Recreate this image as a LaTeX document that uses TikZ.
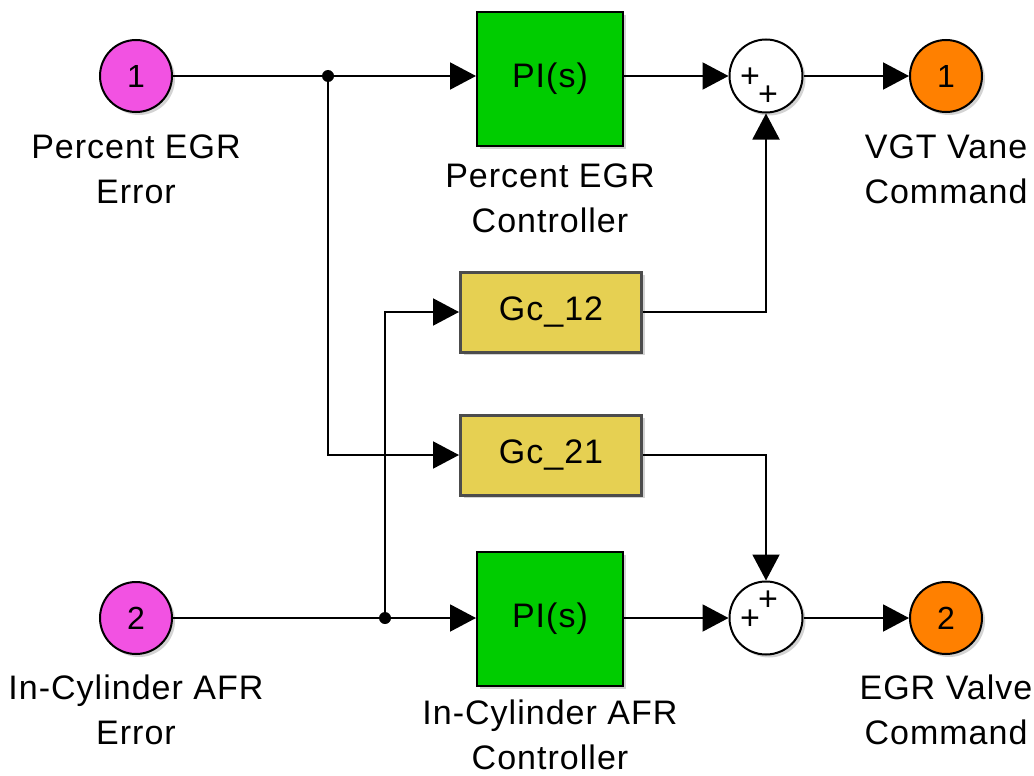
\documentclass[tikz,border=0pt]{standalone}
\usepackage{fontspec}
\setmainfont{Liberation Sans}[LetterSpace=3]
\usetikzlibrary{arrows.meta,shadows}
\definecolor{inmagenta}{RGB}{242,82,226}
\definecolor{outorange}{RGB}{255,128,0}
\definecolor{pigreen}{RGB}{0,204,0}
\definecolor{gcyellow}{RGB}{230,208,82}

\begin{document}
\begin{tikzpicture}[x=1pt,y=-1pt,
    wire/.style={line width=2pt, -{Triangle[length=26pt,width=27pt]}},
    shade/.style={drop shadow={opacity=0.35, shadow xshift=3pt, shadow yshift=-3pt}},
    port/.style={circle, draw, line width=2pt, minimum size=72pt, inner sep=0pt,
        font=\fontsize{32}{36}\selectfont, shade},
    sumblock/.style={circle, draw, fill=white, line width=2pt, minimum size=73pt, inner sep=0pt, shade},
    piblock/.style={draw, fill=pigreen, line width=2pt, minimum width=146pt, minimum height=134pt,
        font=\fontsize{34}{36}\selectfont, shade},
    gcblock/.style={draw=black!70, fill=gcyellow, line width=3pt, minimum width=181pt, minimum height=80pt,
        font=\fontsize{34}{36}\selectfont, shade},
    lbl/.style={align=center, font=\fontsize{34}{45}\selectfont},
    sign/.style={font=\fontsize{34}{34}\selectfont, inner sep=0pt}]
    \useasboundingbox (0,0) rectangle (1034,776);

    % Inports and outports
    \node[port, fill=inmagenta] (in1) at (136,76) {1};
    \node[port, fill=inmagenta] (in2) at (136,618) {2};
    \node[port, fill=outorange] (out1) at (946,76) {1};
    \node[port, fill=outorange] (out2) at (946,618) {2};

    % Controllers
    \node[piblock] (pi1) at (550,79) {PI(s)};
    \node[piblock] (pi2) at (550,619) {PI(s)};
    \node[gcblock] (gc12) at (551,312) {Gc\_12};
    \node[gcblock] (gc21) at (551,455) {Gc\_21};

    % Sums
    \node[sumblock] (sum1) at (766,76) {};
    \node[sumblock] (sum2) at (766,618) {};
    \node[sign] (s1a) at (750,78) {+};
    \node[sign] (s1b) at (768,96) {+};
    \node[sign] (s2a) at (750,620) {+};
    \node[sign] (s2b) at (768,601) {+};

    % Labels
    \node[lbl] (lin1) at (136,169) {Percent EGR\\Error};
    \node[lbl] (lin2) at (136,710) {In-Cylinder AFR\\Error};
    \node[lbl] (lpi1) at (550,198) {Percent EGR\\Controller};
    \node[lbl] (lpi2) at (550,735) {In-Cylinder AFR\\Controller};
    \node[lbl] (lout1) at (946,169) {VGT Vane\\Command};
    \node[lbl] (lout2) at (946,710) {EGR Valve\\Command};

    % Branch points
    \coordinate (j1) at (328,76);
    \coordinate (j2) at (385,618);
    \fill (j1) circle (6pt);
    \fill (j2) circle (6pt);

    % Signal lines
    \draw[wire] (in1) -- (pi1.west |- in1);
    \draw[wire] (j1) |- (gc21);
    \draw[wire] (in2) -- (pi2.west |- in2);
    \draw[wire] (j2) |- (gc12);
    \draw[wire] (pi1.east |- sum1) -- (sum1);
    \draw[wire] (pi2.east |- sum2) -- (sum2);
    \draw[wire] (gc12) -| (sum1);
    \draw[wire] (gc21) -| (sum2);
    \draw[wire] (sum1) -- (out1);
    \draw[wire] (sum2) -- (out2);
\end{tikzpicture}
\end{document}
